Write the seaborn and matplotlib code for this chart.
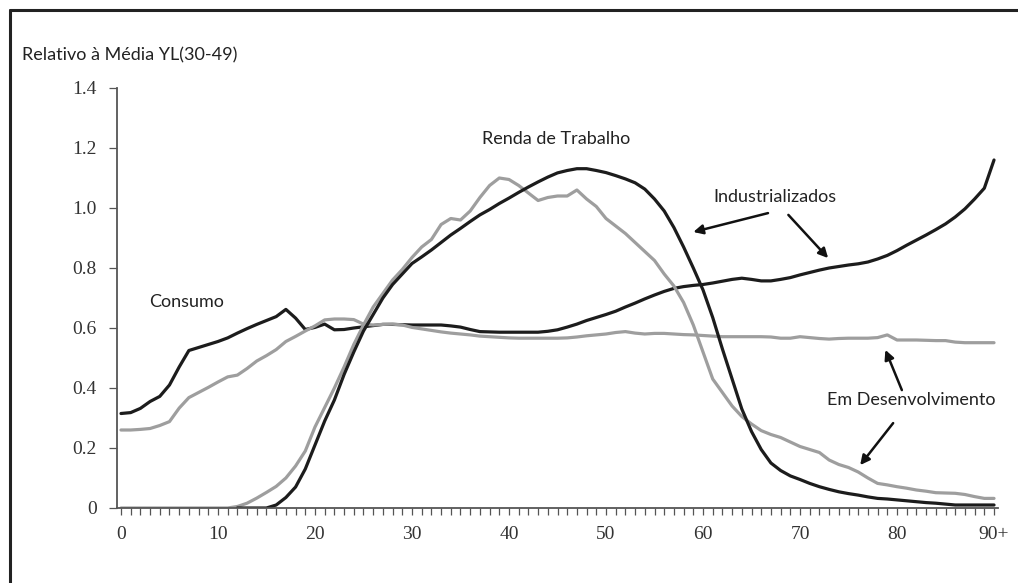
import numpy as np
import pandas as pd
import matplotlib
matplotlib.use("Agg")
import matplotlib.pyplot as plt
from matplotlib.lines import Line2D
import seaborn as sns

ages = list(range(0, 91))

ind_cons = [0.315, 0.318, 0.332, 0.355, 0.372, 0.41, 0.47, 0.525, 0.535, 0.545,
            0.555, 0.567, 0.583, 0.598, 0.612, 0.625, 0.638, 0.662, 0.633, 0.595,
            0.602, 0.613, 0.594, 0.595, 0.6, 0.604, 0.608, 0.612, 0.612, 0.611,
            0.61, 0.61, 0.61, 0.61, 0.607, 0.603, 0.595, 0.588, 0.587, 0.586,
            0.586, 0.586, 0.586, 0.586, 0.589, 0.594, 0.603, 0.613, 0.625, 0.635,
            0.645, 0.656, 0.67, 0.683, 0.697, 0.71, 0.722, 0.732, 0.738, 0.742,
            0.745, 0.75, 0.756, 0.762, 0.766, 0.762, 0.757, 0.757, 0.762, 0.768,
            0.777, 0.785, 0.793, 0.8, 0.805, 0.81, 0.814, 0.82, 0.83, 0.842,
            0.858, 0.876, 0.893, 0.91, 0.928, 0.947, 0.97, 0.997, 1.03, 1.066,
            1.16]

dev_cons = [0.26, 0.26, 0.262, 0.265, 0.275, 0.288, 0.333, 0.368, 0.385, 0.402,
            0.42, 0.437, 0.443, 0.465, 0.49, 0.508, 0.528, 0.555, 0.572, 0.59,
            0.607, 0.627, 0.63, 0.63, 0.628, 0.613, 0.61, 0.612, 0.613, 0.61,
            0.602, 0.597, 0.592, 0.587, 0.583, 0.58, 0.577, 0.573, 0.571, 0.569,
            0.567, 0.566, 0.566, 0.566, 0.566, 0.566, 0.567, 0.57, 0.574, 0.577,
            0.58, 0.585, 0.588, 0.583, 0.58, 0.582, 0.582, 0.58, 0.578, 0.577,
            0.575, 0.573, 0.571, 0.571, 0.571, 0.571, 0.571, 0.57, 0.566, 0.566,
            0.571, 0.568, 0.565, 0.563, 0.565, 0.566, 0.566, 0.566, 0.568, 0.577,
            0.56, 0.56, 0.56, 0.559, 0.558, 0.558, 0.553, 0.551, 0.551, 0.551,
            0.551]

ind_lab = [np.nan] * 12 + [
            0.0, 0.0, 0.0, 0.0, 0.01, 0.035, 0.07, 0.13,
            0.21, 0.29, 0.36, 0.445, 0.52, 0.59, 0.645, 0.7, 0.745, 0.78,
            0.815, 0.837, 0.86, 0.885, 0.91, 0.932, 0.955, 0.977, 0.995, 1.015,
            1.033, 1.052, 1.07, 1.087, 1.103, 1.117, 1.125, 1.131, 1.131, 1.125,
            1.118, 1.108, 1.097, 1.084, 1.063, 1.03, 0.99, 0.935, 0.87, 0.8,
            0.727, 0.635, 0.53, 0.43, 0.33, 0.255, 0.195, 0.15, 0.125, 0.107,
            0.095, 0.082, 0.071, 0.062, 0.054, 0.048, 0.043, 0.037, 0.032, 0.03,
            0.027, 0.024, 0.021, 0.018, 0.016, 0.013, 0.01, 0.01, 0.01, 0.01,
            0.01]

dev_lab = [0.0] * 12 + [
            0.005, 0.016, 0.033, 0.052, 0.072, 0.1, 0.14, 0.19,
            0.27, 0.335, 0.4, 0.47, 0.545, 0.61, 0.67, 0.715, 0.76, 0.795,
            0.835, 0.87, 0.895, 0.945, 0.965, 0.96, 0.99, 1.035, 1.075, 1.1,
            1.095, 1.075, 1.05, 1.025, 1.035, 1.04, 1.04, 1.06, 1.03, 1.005,
            0.965, 0.94, 0.915, 0.885, 0.855, 0.825, 0.78, 0.74, 0.685, 0.61,
            0.52, 0.43, 0.385, 0.34, 0.305, 0.28, 0.258, 0.245, 0.235, 0.22,
            0.205, 0.195, 0.185, 0.16, 0.145, 0.135, 0.12, 0.1, 0.082, 0.077,
            0.071, 0.066, 0.06, 0.056, 0.051, 0.05, 0.049, 0.045, 0.038, 0.032,
            0.032]

x_tick_labels = ["0", "10", "20", "30", "40", "50", "60", "70", "80", "90+"]
y_ticks = [0, 0.2, 0.4, 0.6, 0.8, 1.0, 1.2, 1.4]
y_tick_labels = ["0", "0.2", "0.4", "0.6", "0.8", "1.0", "1.2", "1.4"]

BLACK = "#1c1c1c"
GRAY = "#9e9e9e"

sns.set_style("white")
plt.rcParams["font.family"] = ["Lato", "DejaVu Sans"]

fig = plt.figure(figsize=(10.18, 5.83), dpi=100)
ax = fig.add_axes([117 / 1018, 1 - 508 / 583, (998 - 117) / 1018, 420 / 583])

df = pd.DataFrame({"age": ages, "ind_cons": ind_cons, "dev_cons": dev_cons,
                   "ind_lab": ind_lab, "dev_lab": dev_lab})

for col, color in [("ind_cons", BLACK), ("dev_cons", GRAY),
                   ("dev_lab", GRAY), ("ind_lab", BLACK)]:
    sns.lineplot(data=df, x="age", y=col, ax=ax, color=color, linewidth=2.3,
                 estimator=None, legend=False)

ax.set_xlim(-0.41, 90.41)
ax.set_ylim(0, 1.4)
ax.set_xlabel("")
ax.set_ylabel("")

ax.set_xticks(list(range(0, 91, 10)))
ax.set_xticklabels(x_tick_labels)
ax.set_xticks(list(range(0, 91)), minor=True)
ax.set_yticks(y_ticks)
ax.set_yticklabels(y_tick_labels)

for lab in ax.get_xticklabels() + ax.get_yticklabels():
    lab.set_fontfamily("Liberation Serif")
    lab.set_fontsize(14)
    lab.set_color("#333333")

ax.tick_params(axis="x", which="both", direction="out", length=5, width=0.9,
               color="#555555", pad=8)
ax.tick_params(axis="y", which="major", direction="out", length=5.5, width=0.9,
               color="#555555", pad=9, left=True)
ax.tick_params(axis="x", which="major", bottom=True)
ax.tick_params(axis="x", which="minor", bottom=True)

for s in ["top", "right"]:
    ax.spines[s].set_visible(False)
for s in ["left", "bottom"]:
    ax.spines[s].set_color("#555555")
    ax.spines[s].set_linewidth(1.3)

txt_kw = dict(fontsize=13, color="#222222", ha="center", va="center")
ax.text(6.8, 0.687, "Consumo", **txt_kw)
ax.text(44.9, 1.23, "Renda de Trabalho", **txt_kw)
ax.text(67.4, 1.037, "Industrializados", **txt_kw)
ax.text(81.5, 0.36, "Em Desenvolvimento", **txt_kw)

arrow_kw = dict(arrowstyle="-|>", color="#111111", lw=1.8, mutation_scale=14,
                shrinkA=0, shrinkB=0)
ax.annotate("", xy=(59.0, 0.92), xytext=(66.7, 0.983), arrowprops=arrow_kw)
ax.annotate("", xy=(72.9, 0.833), xytext=(68.8, 0.977), arrowprops=arrow_kw)
ax.annotate("", xy=(78.8, 0.527), xytext=(80.5, 0.393), arrowprops=arrow_kw)
ax.annotate("", xy=(76.2, 0.143), xytext=(79.6, 0.283), arrowprops=arrow_kw)

fig.text(22 / 1018, 1 - 55 / 583, "Relativo à Média YL(30-49)", fontsize=13,
         color="#222222", ha="left", va="center")

# figure frame (top and left edges)
fig.add_artist(Line2D([10 / 1018, 10 / 1018], [0, 1 - 10 / 583],
                      transform=fig.transFigure, color="#222222", lw=2.2))
fig.add_artist(Line2D([10 / 1018, 1], [1 - 10 / 583, 1 - 10 / 583],
                      transform=fig.transFigure, color="#222222", lw=2.2))

fig.savefig("out.png", dpi=100)
